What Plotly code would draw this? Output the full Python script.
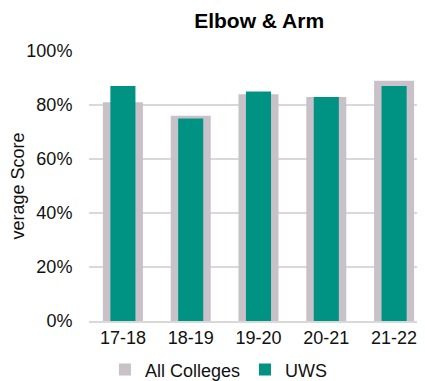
import plotly.graph_objects as go

categories = ["17-18", "18-19", "19-20", "20-21", "21-22"]
all_colleges = [81, 76, 84, 83, 89]
uws = [87, 75, 85, 83, 87]
y_ticks = [0, 20, 40, 60, 80, 100]
y_tick_labels = [f"{v}%" for v in y_ticks]

FONT = "Liberation Sans, Arial, sans-serif"

fig = go.Figure()
fig.add_trace(go.Bar(
    x=categories, y=all_colleges, name="All Colleges",
    marker=dict(color="#C8C1C7", line=dict(width=0)), width=0.59,
))
fig.add_trace(go.Bar(
    x=categories, y=uws, name="UWS",
    marker=dict(color="#009384", line=dict(width=0)), width=0.37,
))

# page body has an 8px margin; plot area runs slightly past the right window edge
fig.update_layout(
    width=420, height=373,
    barmode="overlay",
    margin=dict(l=81, r=0, t=43, b=60, autoexpand=False),
    paper_bgcolor="white", plot_bgcolor="white",
    font=dict(family=FONT, size=18, color="#111111"),
    title=dict(text="<b>Elbow & Arm</b>", x=0.598, xanchor="center",
               y=0.965, yanchor="middle", font=dict(size=21, color="#000000")),
    showlegend=True,
    legend=dict(orientation="h", x=0.047, xanchor="left", y=-0.181, yanchor="middle",
                font=dict(size=18), itemwidth=30, traceorder="normal"),
)
fig.update_yaxes(
    range=[0, 100], tickvals=y_ticks, ticktext=y_tick_labels,
    showgrid=True, gridcolor="#D9D9D9", gridwidth=1.5,
    zeroline=False, showline=False,
    ticks="outside", ticklen=12, tickcolor="rgba(0,0,0,0)",
    automargin=False,
    title=dict(text="verage Score", font=dict(size=18)),
)
fig.update_xaxes(
    showline=True, linecolor="#D9D9D9", linewidth=1.5, ticks="",
    showgrid=False, automargin=False,
)
fig.write_html("out.html")
